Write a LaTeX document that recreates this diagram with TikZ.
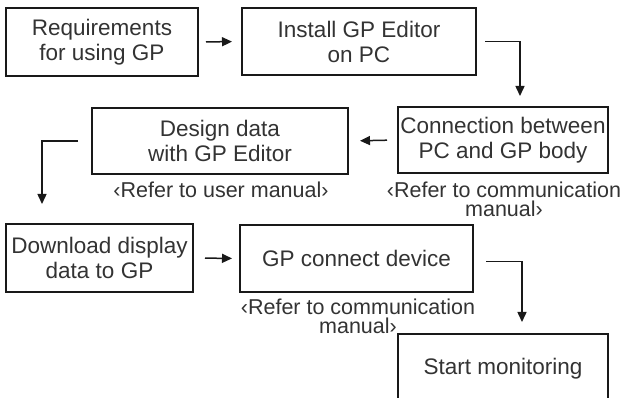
\documentclass[tikz,border=0pt]{standalone}
\usepackage{fontspec}
\setmainfont{Liberation Sans}
\usetikzlibrary{arrows.meta}
\tikzset{
  stepbox/.style={draw=black!90, line width=2pt, inner sep=0pt, align=center,
    text=black!80, font=\fontsize{22.5}{25}\selectfont},
  note/.style={inner sep=0pt, align=center, text=black!80,
    font=\fontsize{21.5}{19}\selectfont},
  flow/.style={line width=1.5pt, draw=black!90,
    -{Triangle[length=10pt,width=9pt]}},
}
\begin{document}
\begin{tikzpicture}[x=1pt,y=-1pt]
\clip (0,0) rectangle (627,398);
\fill[white] (0,0) rectangle (627,398);

% process steps
\node[stepbox, minimum width=192pt, minimum height=68pt] (b1) at (102,42)
  {Requirements\\for using GP};
\node[stepbox, minimum width=234pt, minimum height=67pt] (b2) at (359,41.5)
  {Install GP Editor\\on PC};
\node[stepbox, minimum width=210pt, minimum height=66pt] (b3) at (503,140)
  {Connection between\\PC and GP body};
\node[stepbox, minimum width=256pt, minimum height=66pt] (b4) at (220,141)
  {Design data\\with GP Editor};
\node[stepbox, minimum width=187pt, minimum height=68pt] (b5) at (99.5,258)
  {Download display\\data to GP};
\node[stepbox, minimum width=233pt, minimum height=67pt] (b6) at (356.5,258.5)
  {GP connect device};
\node[stepbox, minimum width=210pt, minimum height=70pt] (b7) at (503,369)
  {Start monitoring};

% references to manuals
\node[note] (n4) at (221,190) {‹Refer to user manual›};
\node[note] (n3) at (504,199.5) {‹Refer to communication\\manual›};
\node[note] (n6) at (358,316.5) {‹Refer to communication\\manual›};

% connectors
\draw[flow, shorten <=7pt, shorten >=9pt] (b1.east) -- (b2.west);
\draw[flow, shorten <=8pt, shorten >=10pt] (b2.east) -| ([xshift=17pt]b3.north);
\draw[flow, shorten <=10pt, shorten >=11pt] (b3.west) -- (b4.west -| b4.east);
\draw[flow, shorten <=13pt, shorten >=19pt] (b4.west) -| ([xshift=-57.5pt]b5.north);
\draw[flow, shorten <=11pt, shorten >=7pt] (b5.east) -- (b6.west);
\draw[flow, shorten <=12pt, shorten >=11pt] ([yshift=-3pt]b6.east) -| ([xshift=19pt]b7.north);
\end{tikzpicture}
\end{document}
